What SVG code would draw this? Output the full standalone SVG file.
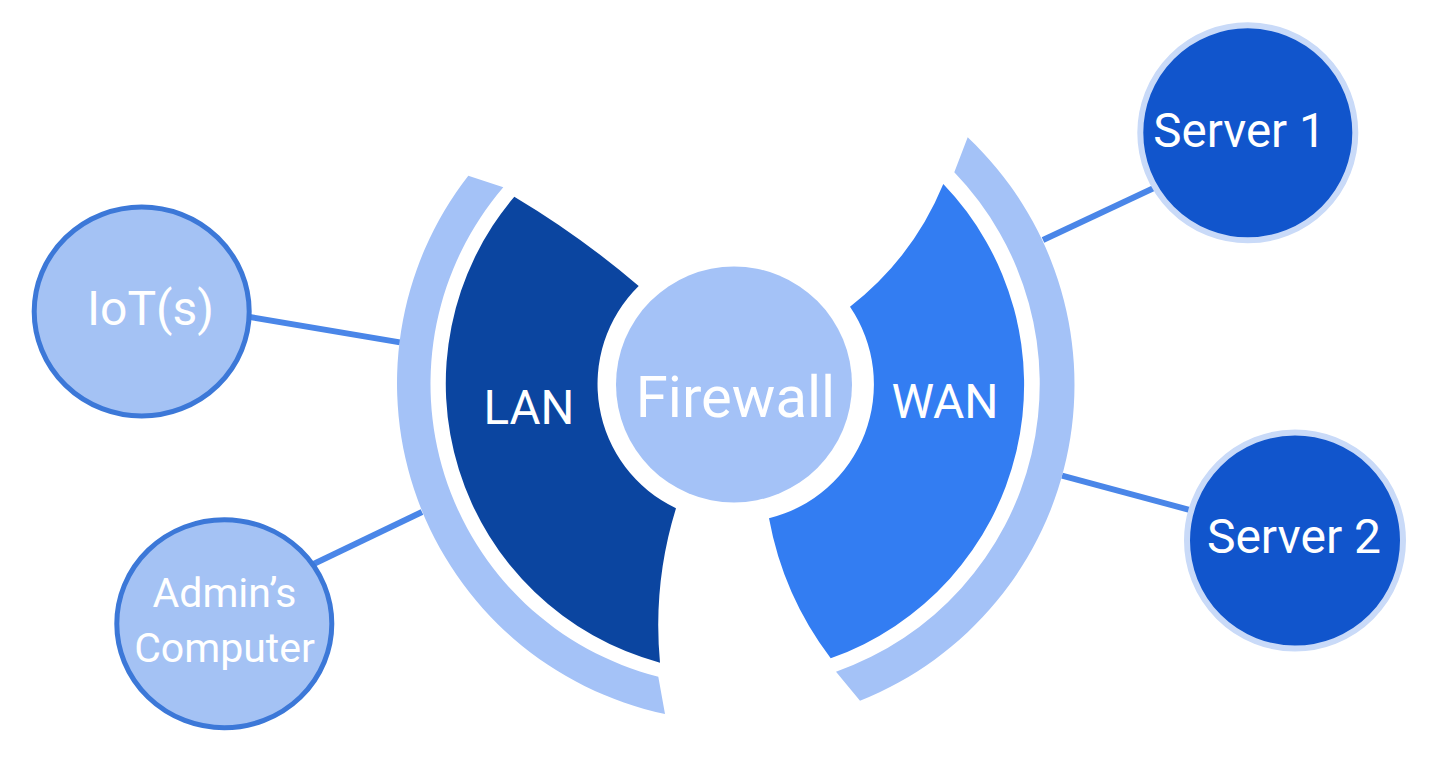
<svg xmlns="http://www.w3.org/2000/svg" width="1442" height="757" viewBox="0 0 1442 757">
<style>
.conn{stroke:#4A86E8;stroke-width:6;fill:none}
.band{fill:#A4C2F7}
.lite{fill:#A4C2F4;stroke:#3C78D8;stroke-width:5}
.srv{fill:#1155CC;stroke:#C9DAF8;stroke-width:6}
.t{font-family:Roboto,"Liberation Sans",sans-serif;fill:#FFFFFF;text-anchor:middle}
</style>
<rect width="1442" height="757" fill="#FFFFFF"/>
<g id="connectors">
<line class="conn" x1="245" y1="316.2" x2="400" y2="342.4"/>
<line class="conn" x1="312" y1="564.7" x2="422" y2="512"/>
<line class="conn" x1="1043" y1="240" x2="1156" y2="187"/>
<line class="conn" x1="1062" y1="475.6" x2="1193" y2="510.8"/>
</g>
<g id="lan-band">
<path class="band" d="M468.3,175.7 A338,338 0 0 0 665,714 L658.3,676.7 A302,302 0 0 1 503.3,187.3 Z"/>
</g>
<g id="wan-band">
<path class="band" d="M967.7,137.3 A340,340 0 0 1 860,700.7 L836,671.7 A305,305 0 0 0 954.3,172.3 Z"/>
</g>
<g id="lan">
<path fill="#0B45A0" d="M514.3,196.7 A289,289 0 0 0 660,662.7 A397,397 0 0 1 676,508.3 A137.5,137.5 0 0 1 638.7,286 A900,900 0 0 0 514.3,196.7 Z"/>
<text class="t" x="529" y="424" font-size="47.5">LAN</text>
</g>
<g id="wan">
<path fill="#337DF2" d="M943.3,184 A290,290 0 0 1 830.7,658.3 A330,330 0 0 1 769,518.3 A138,138 0 0 0 850,306.7 A300,300 0 0 0 943.3,184 Z"/>
<text class="t" x="945" y="418.3" font-size="48">WAN</text>
</g>
<g id="firewall">
<circle cx="734" cy="384.5" r="118" fill="#A4C2F7"/>
<text class="t" x="735.5" y="417.3" font-size="58">Firewall</text>
</g>
<g id="iot">
<ellipse class="lite" cx="141.7" cy="311.5" rx="107.5" ry="104.5"/>
<text class="t" x="150.5" y="325" font-size="48">IoT(s)</text>
</g>
<g id="admin">
<ellipse class="lite" cx="224.3" cy="623.7" rx="107.5" ry="104"/>
<text class="t" x="224.5" y="606.7" font-size="41">Admin’s</text>
<text class="t" x="224.5" y="662.3" font-size="41">Computer</text>
</g>
<g id="server1">
<circle class="srv" cx="1247.8" cy="132.8" r="107.5"/>
<text class="t" x="1239.5" y="146.7" font-size="47.5">Server 1</text>
</g>
<g id="server2">
<circle class="srv" cx="1295" cy="540.5" r="108"/>
<text class="t" x="1294" y="553.3" font-size="48">Server 2</text>
</g>
</svg>
